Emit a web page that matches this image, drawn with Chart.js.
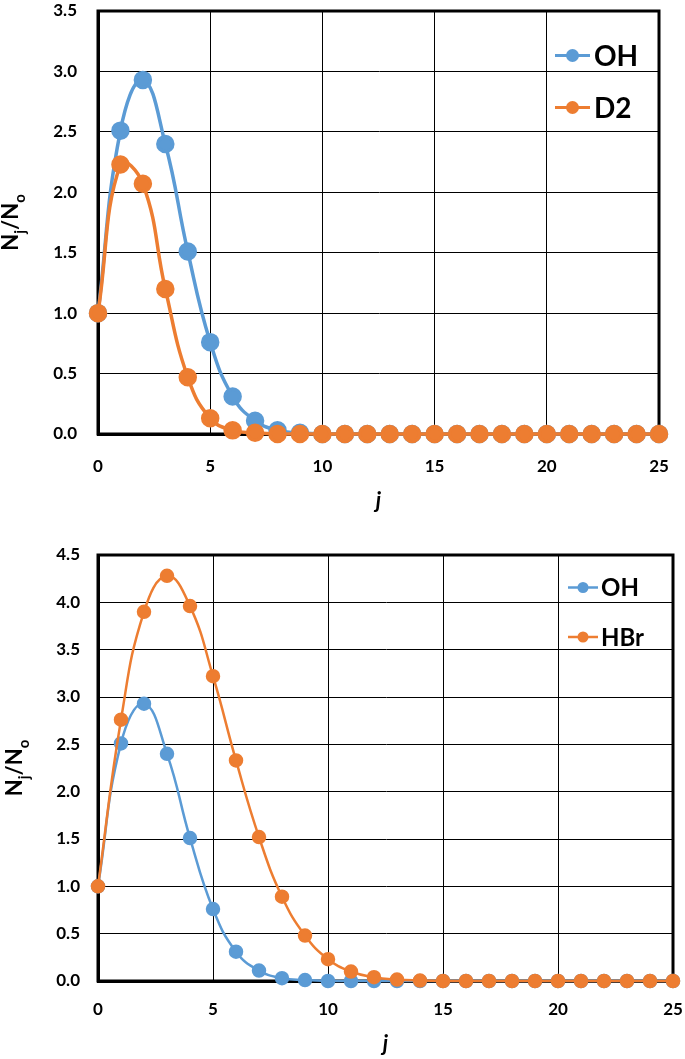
<!DOCTYPE html>
<html>
<head>
<meta charset="utf-8">
<script src="https://cdn.jsdelivr.net/npm/chart.js@4"></script>
<style>
  body { margin: 0; background: #fff; }
  #wrap { position: relative; width: 685px; height: 1059px; }
  #c1 { position: absolute; left: 0; top: 0; }
  #c2 { position: absolute; left: 0; top: 525px; }
</style>
</head>
<body>
<div id="wrap">
  <canvas id="c1" width="685" height="525"></canvas>
  <canvas id="c2" width="685" height="534"></canvas>
</div>
<script>
// data
const jVals = [0,1,2,3,4,5,6,7,8,9,10,11,12,13,14,15,16,17,18,19,20,21,22,23,24,25];
const ohVals = [1.00,2.51,2.93,2.40,1.51,0.76,0.31,0.11,0.03,0.01,0,0,0,0,0,0,0,0,0,0,0,0,0,0,0,0];
const d2Vals = [1.00,2.23,2.07,1.20,0.47,0.13,0.03,0.01,0,0,0,0,0,0,0,0,0,0,0,0,0,0,0,0,0,0];
const hbrVals = [1.00,2.76,3.90,4.28,3.96,3.22,2.33,1.52,0.89,0.48,0.23,0.10,0.04,0.015,0.005,0,0,0,0,0,0,0,0,0,0,0];
const xTicks = [0,5,10,15,20,25];
const yTicksTop = [0,0.5,1,1.5,2,2.5,3,3.5];
const yTicksBottom = [0,0.5,1,1.5,2,2.5,3,3.5,4,4.5];

const BLUE = "#5B9BD5";
const ORANGE = "#ED7D31";
const FONT = "Lato, 'Open Sans', sans-serif";

function pts(vals){
  return jVals.map((x, i) => ({x: x, y: vals[i]}));
}

// thick box round the plot area, under the markers
const frame = {
  id: "frame",
  beforeDatasetsDraw(chart){
    const a = chart.chartArea, ctx = chart.ctx;
    ctx.save();
    ctx.strokeStyle = "#000";
    ctx.lineWidth = 3;
    ctx.strokeRect(a.left, a.top, a.right - a.left, a.bottom - a.top);
    ctx.restore();
  }
};

// y title with subscripts + legend inside the plot
function extras(leg){
  return {
    id: "extras",
    afterDraw(chart){
      const ctx = chart.ctx, a = chart.chartArea;
      ctx.save();
      // N_j / N_o rotated
      const big = "bold 22px " + FONT, small = "bold 15px " + FONT;
      const parts = [["N", big, 0], ["j", small, 7], ["/N", big, 0], ["o", small, 7]];
      let w = 0;
      parts.forEach(p => { ctx.font = p[1]; w += ctx.measureText(p[0]).width; });
      ctx.translate(leg.yt, (a.top + a.bottom) / 2);
      ctx.rotate(-Math.PI / 2);
      ctx.fillStyle = "#000";
      ctx.textBaseline = "alphabetic";
      let x = -w / 2;
      parts.forEach(p => {
        ctx.font = p[1];
        ctx.fillText(p[0], x, p[2]);
        x += ctx.measureText(p[0]).width;
      });
      ctx.restore();

      // legend
      ctx.save();
      leg.items.forEach(it => {
        ctx.strokeStyle = it.color;
        ctx.fillStyle = it.color;
        ctx.lineWidth = leg.lw;
        ctx.beginPath();
        ctx.moveTo(leg.x0, it.y - leg.cap * 0.5);
        ctx.lineTo(leg.x1, it.y - leg.cap * 0.5);
        ctx.stroke();
        ctx.beginPath();
        ctx.arc((leg.x0 + leg.x1) / 2, it.y - leg.cap * 0.5, leg.r, 0, Math.PI * 2);
        ctx.fill();
        ctx.fillStyle = "#000";
        ctx.font = "bold " + leg.size + "px " + FONT;
        ctx.textBaseline = "alphabetic";
        ctx.fillText(it.label, leg.tx, it.y);
      });
      ctx.restore();
    }
  };
}

function makeChart(id, sets, yTicks, box, style, leg){
  return new Chart(document.getElementById(id), {
    type: "line",
    data: {
      datasets: sets.map(s => ({
        label: s.label,
        data: pts(s.vals),
        borderColor: s.color,
        backgroundColor: s.color,
        pointBackgroundColor: s.color,
        pointBorderColor: s.color,
        pointRadius: style.r,
        pointHoverRadius: style.r,
        borderWidth: style.lw,
        tension: 0.45,
        clip: false,
        order: s.order
      }))
    },
    options: {
      responsive: false,
      devicePixelRatio: 1,
      animation: false,
      events: [],
      layout: { padding: { left: 0, top: box.top, right: box.right, bottom: 0 } },
      plugins: { legend: { display: false }, tooltip: { enabled: false } },
      scales: {
        x: {
          type: "linear",
          min: 0, max: 25,
          afterFit: s => { s.height = box.xh; s.paddingLeft = 0; s.paddingRight = 0; },
          afterBuildTicks: s => { s.ticks = xTicks.map(v => ({value: v})); },
          grid: { color: "#000", lineWidth: 1, drawTicks: false },
          border: { color: "#000", width: 3 },
          ticks: { color: "#000", padding: box.xpad, maxRotation: 0, font: { family: FONT, size: 17, weight: "bold" } },
          title: { display: true, text: "j", color: "#000", padding: { top: 0, bottom: box.tpad },
                   font: { family: FONT, size: 22, weight: "bold", style: "italic" } }
        },
        y: {
          min: 0, max: yTicks[yTicks.length - 1],
          afterFit: s => { s.width = 98; s.paddingTop = 0; s.paddingBottom = 0; },
          afterBuildTicks: s => { s.ticks = yTicks.map(v => ({value: v})); },
          grid: { color: "#000", lineWidth: 1, drawTicks: false },
          border: { color: "#000", width: 3 },
          ticks: { color: "#000", padding: box.ypad, font: { family: FONT, size: 17, weight: "bold" },
                   callback: v => v.toFixed(1) }
        }
      }
    },
    plugins: [frame, extras(leg)]
  });
}

// top: OH vs D2
makeChart("c1",
  [ {label: "OH", vals: ohVals, color: BLUE, order: 1},
    {label: "D2", vals: d2Vals, color: ORANGE, order: 0} ],
  yTicksTop,
  { top: 11, right: 26, xh: 91, xpad: 22, tpad: 11, ypad: 21 },
  { r: 7.5, lw: 3.5 },
  { x0: 555, x1: 590, r: 6.5, lw: 3, size: 28, tx: 594, cap: 20, yt: 18,
    items: [ {label: "OH", color: BLUE, y: 65.5}, {label: "D2", color: ORANGE, y: 117.5} ] }
);

// bottom: OH vs HBr
makeChart("c2",
  [ {label: "OH", vals: ohVals, color: BLUE, order: 1},
    {label: "HBr", vals: hbrVals, color: ORANGE, order: 0} ],
  yTicksBottom,
  { top: 30, right: 12, xh: 78, xpad: 18, tpad: 2, ypad: 18 },
  { r: 6, lw: 2.5 },
  { x0: 568, x1: 598, r: 5.5, lw: 2.5, size: 24, tx: 601, cap: 17, yt: 22,
    items: [ {label: "OH", color: BLUE, y: 71}, {label: "HBr", color: ORANGE, y: 120.5} ] }
);
</script>
</body>
</html>
